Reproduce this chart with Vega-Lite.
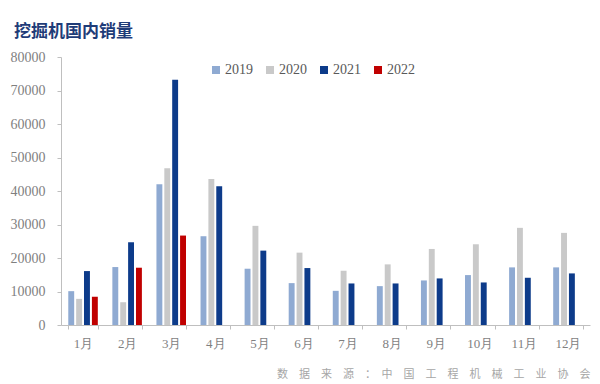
{
  "$schema": "https://vega.github.io/schema/vega-lite/v6.json",
  "width": 529,
  "height": 268,
  "autosize": {"type": "none"},
  "padding": {"left": 61, "top": 57, "right": 10, "bottom": 59},
  "background": "white",
  "title": {
    "text": "挖掘机国内销量",
    "anchor": "start",
    "frame": "group",
    "dx": -47,
    "offset": 9,
    "font": "Noto Sans CJK SC",
    "fontSize": 17,
    "fontWeight": "bold",
    "color": "#1F3C78"
  },
  "data": {
    "values": [
      {"month": "1月", "year": "2019", "sales": 10100},
      {"month": "1月", "year": "2020", "sales": 7800},
      {"month": "1月", "year": "2021", "sales": 16100},
      {"month": "1月", "year": "2022", "sales": 8400},
      {"month": "2月", "year": "2019", "sales": 17300},
      {"month": "2月", "year": "2020", "sales": 6800},
      {"month": "2月", "year": "2021", "sales": 24700},
      {"month": "2月", "year": "2022", "sales": 17100},
      {"month": "3月", "year": "2019", "sales": 42000},
      {"month": "3月", "year": "2020", "sales": 46800},
      {"month": "3月", "year": "2021", "sales": 73200},
      {"month": "3月", "year": "2022", "sales": 26700},
      {"month": "4月", "year": "2019", "sales": 26500},
      {"month": "4月", "year": "2020", "sales": 43600},
      {"month": "4月", "year": "2021", "sales": 41400},
      {"month": "5月", "year": "2019", "sales": 16800},
      {"month": "5月", "year": "2020", "sales": 29600},
      {"month": "5月", "year": "2021", "sales": 22200},
      {"month": "6月", "year": "2019", "sales": 12500},
      {"month": "6月", "year": "2020", "sales": 21600},
      {"month": "6月", "year": "2021", "sales": 17000},
      {"month": "7月", "year": "2019", "sales": 10200},
      {"month": "7月", "year": "2020", "sales": 16200},
      {"month": "7月", "year": "2021", "sales": 12400},
      {"month": "8月", "year": "2019", "sales": 11600},
      {"month": "8月", "year": "2020", "sales": 18100},
      {"month": "8月", "year": "2021", "sales": 12400},
      {"month": "9月", "year": "2019", "sales": 13300},
      {"month": "9月", "year": "2020", "sales": 22700},
      {"month": "9月", "year": "2021", "sales": 13900},
      {"month": "10月", "year": "2019", "sales": 14900},
      {"month": "10月", "year": "2020", "sales": 24100},
      {"month": "10月", "year": "2021", "sales": 12700},
      {"month": "11月", "year": "2019", "sales": 17200},
      {"month": "11月", "year": "2020", "sales": 29000},
      {"month": "11月", "year": "2021", "sales": 14100},
      {"month": "12月", "year": "2019", "sales": 17200},
      {"month": "12月", "year": "2020", "sales": 27500},
      {"month": "12月", "year": "2021", "sales": 15400}
    ]
  },
  "mark": {"type": "bar"},
  "encoding": {
    "x": {
      "field": "month",
      "type": "ordinal",
      "sort": ["1月","2月","3月","4月","5月","6月","7月","8月","9月","10月","11月","12月"],
      "scale": {"paddingInner": 0.33, "paddingOuter": 0.165},
      "axis": {
        "title": "数\u3000据\u3000来\u3000源\u3000：\u3000中\u3000国\u3000工\u3000程\u3000机\u3000械\u3000工\u3000业\u3000协\u3000会",
        "titleFont": "Noto Sans CJK SC",
        "titleFontSize": 11,
        "titleFontWeight": "normal",
        "titleColor": "#A6A6A6",
        "titleAlign": "right",
        "titleAnchor": "end",
        "titleBaseline": "alphabetic",
        "titleX": 529,
        "titleY": 52,
        "labelAngle": 0,
        "labelFont": "Liberation Serif",
        "labelFontSize": 13,
        "labelColor": "#7F7F7F",
        "labelPadding": 8,
        "tickBand": "extent",
        "tickSize": 4,
        "tickColor": "#BFBFBF",
        "domainColor": "#BFBFBF"
      }
    },
    "xOffset": {
      "field": "year",
      "type": "nominal",
      "scale": {"domain": ["2019","2020","2021","2022"], "paddingInner": 0.25, "paddingOuter": 0}
    },
    "y": {
      "field": "sales",
      "type": "quantitative",
      "scale": {"domain": [0, 80000]},
      "axis": {
        "title": null,
        "values": [0,10000,20000,30000,40000,50000,60000,70000,80000],
        "format": "d",
        "grid": false,
        "labelFont": "Liberation Serif",
        "labelFontSize": 14,
        "labelColor": "#7F7F7F",
        "labelPadding": 12,
        "tickSize": 4,
        "tickColor": "#BFBFBF",
        "domainColor": "#BFBFBF"
      }
    },
    "color": {
      "field": "year",
      "type": "nominal",
      "scale": {"domain": ["2019","2020","2021","2022"], "range": ["#8FAAD2","#C9C9C9","#0D3B8A","#C00000"]},
      "legend": {
        "title": null,
        "orient": "none",
        "direction": "horizontal",
        "legendX": 148,
        "legendY": 6,
        "symbolType": "square",
        "symbolSize": 64,
        "symbolStrokeWidth": 0,
        "labelFont": "Liberation Serif",
        "labelFontSize": 14,
        "labelColor": "#595959",
        "labelOffset": 2,
        "columnPadding": 10
      }
    }
  },
  "config": {"view": {"stroke": null}}
}
